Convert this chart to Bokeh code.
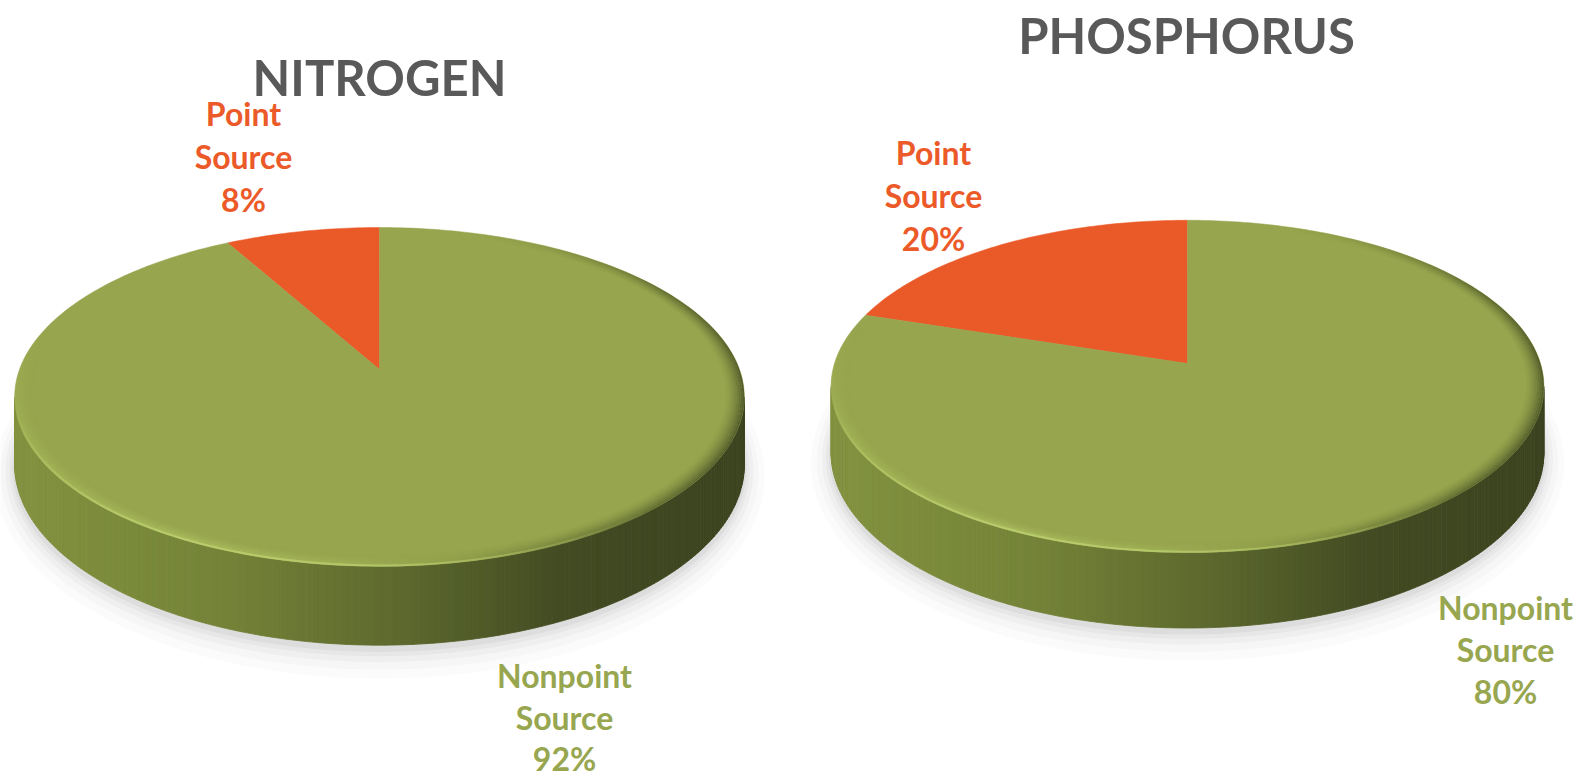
import numpy as np
from bokeh.plotting import figure
from bokeh.models import Range1d
from bokeh.core.properties import value
from bokeh.embed import file_html
from bokeh.resources import INLINE

# ---------------- data ----------------
categories = ["Point Source", "Nonpoint Source"]
nitrogen_pct = [8, 92]
phosphorus_pct = [20, 80]
chart_titles = ["NITROGEN", "PHOSPHORUS"]

# ---------------- styles / layout ----------------
SLICE_COLORS = ["#ea5a28", "#97a54e"]
LABEL_COLORS = ["#eb5a28", "#97a64f"]
TITLE_COLOR = "#595959"
FONT = "Lato"

W, H = 1594, 779
p = figure(width=W, height=H, output_backend="svg", toolbar_location=None,
           x_range=Range1d(0, W), y_range=Range1d(H, 0),
           min_border=0)
p.axis.visible = False
p.grid.visible = False
p.outline_line_color = None
p.background_fill_color = "white"
p.border_fill_color = "white"

# pie geometry (screen px): centre, semi axes, perspective k, depth
pies = [
    dict(values=nitrogen_pct, title=chart_titles[0], cx=379, cy=369, A=360, B=165, k=0.162, D=66,
         title_pos=(379, 76),
         label_pos=[(243, 113), (564, 675)], spacing=[43, 41.5]),
    dict(values=phosphorus_pct, title=chart_titles[1], cx=1187, cy=363, A=353, B=163, k=0.138, D=65,
         title_pos=(1186, 34),
         label_pos=[(933, 152), (1505, 607)], spacing=[43, 42]),
]


def proj(g, phi, r=1.0, drop=0.0):
    phi = np.asarray(phi, dtype=float)
    den = 1.0 + g["k"] * r * np.cos(phi)
    x = g["cx"] - g["A"] * r * np.sin(phi) / den
    y = g["cy"] - g["B"] * r * np.cos(phi) / den + drop / den
    return x, y


def hex2rgb(h):
    h = h.lstrip("#")
    return np.array([int(h[i:i + 2], 16) for i in (0, 2, 4)], dtype=float)


def grad(stops, t):
    ts = [s[0] for s in stops]
    cs = [hex2rgb(s[1]) for s in stops]
    t = min(max(t, 0.0), 1.0)
    for i in range(len(ts) - 1):
        if ts[i] <= t <= ts[i + 1]:
            f = (t - ts[i]) / (ts[i + 1] - ts[i])
            c = cs[i] * (1 - f) + cs[i + 1] * f
            return "#%02x%02x%02x" % tuple(int(round(v)) for v in c)
    c = cs[-1]
    return "#%02x%02x%02x" % tuple(int(round(v)) for v in c)


SIDE_STOPS = [(0.0, "#82923f"), (0.3, "#738237"), (0.55, "#5a662c"),
              (0.75, "#424b22"), (1.0, "#3b431f")]
BEVEL_STOPS = [(0.0, "#a4b658"), (0.25, "#b4c766"), (0.45, "#a6b75a"),
               (0.6, "#8e9c49"), (0.78, "#5c682f"), (1.0, "#3e4621")]

for g in pies:
    k = g["k"]
    D = g["D"]
    # ---- soft shadow ----
    ph = np.linspace(0, 2 * np.pi, 200)
    for e, a in [(20, 0.03), (14, 0.045), (9, 0.06), (5, 0.08), (2, 0.1)]:
        sx, sy = proj(g, ph, r=1.0, drop=D + 3)
        mx = g["cx"]
        my = np.mean(sy)
        ex = mx + (sx - mx) * (1 + e / g["A"])
        ey = my + (sy - my) * (1 + e / g["B"]) + e * 0.3
        p.patch(ex, ey, fill_color="#8a8a8a", fill_alpha=a, line_color=None)

    # ---- side wall (visible front half) ----
    phL = np.arccos(-k)
    phR = 2 * np.pi - phL
    n = 180
    phs = np.linspace(phL, phR, n + 1)
    xs_t, ys_t = proj(g, phs)
    xs_b, ys_b = proj(g, phs, drop=D)
    xmin, xmax = xs_t.min(), xs_t.max()
    pxs, pys, cols = [], [], []
    for i in range(n):
        pxs.append([xs_t[i], xs_t[i + 1], xs_b[i + 1], xs_b[i]])
        pys.append([ys_t[i], ys_t[i + 1], ys_b[i + 1], ys_b[i]])
        t = ((xs_t[i] + xs_t[i + 1]) / 2 - xmin) / (xmax - xmin)
        cols.append(grad(SIDE_STOPS, t))
    p.patches(pxs, pys, fill_color=cols, line_color=cols, line_width=0.8)

    # ---- top slices from the data ----
    vals = np.array(g["values"], dtype=float)
    fr = vals / vals.sum()
    starts = np.concatenate([[0], np.cumsum(fr)[:-1]]) * 2 * np.pi
    ends = np.cumsum(fr) * 2 * np.pi
    for s, e_, col in zip(starts, ends, SLICE_COLORS):
        phw = np.linspace(s, e_, max(int((e_ - s) * 60), 8))
        wx, wy = proj(g, phw)
        p.patch(np.concatenate([[g["cx"]], wx]), np.concatenate([[g["cy"]], wy]),
                fill_color=col, line_color=col, line_width=0.5)

    # ---- soft bevel on the top edge ----
    phb0, phb1 = 1.3, 2 * np.pi - 0.35
    nb = 150
    phb = np.linspace(phb0, phb1, nb + 1)
    nbands = 10
    radii = np.linspace(1.0, 0.95, nbands + 1)
    for j in range(nbands):
        r0, r1 = radii[j], radii[j + 1]
        a = 0.75 * (1 - j / nbands) ** 1.6
        ox, oy = proj(g, phb, r=r0)
        ix, iy = proj(g, phb, r=r1)
        bxs, bys, bcols, balph = [], [], [], []
        for i in range(nb):
            bxs.append([ox[i], ox[i + 1], ix[i + 1], ix[i]])
            bys.append([oy[i], oy[i + 1], iy[i + 1], iy[i]])
            t = ((ox[i] + ox[i + 1]) / 2 - xmin) / (xmax - xmin)
            m = (phb[i] - phb0) / (phb1 - phb0)
            fade = min(1.0, m / 0.15, (1 - m) / 0.15)
            bcols.append(grad(BEVEL_STOPS, t))
            balph.append(a * max(fade, 0.0))
        p.patches(bxs, bys, fill_color=bcols, fill_alpha=balph, line_color=None)
    # thin highlight right on the front-left rim
    phh = np.linspace(1.75, 3.9, 80)
    hx, hy = proj(g, phh, r=0.996)
    hs_x = [[hx[i], hx[i + 1]] for i in range(len(phh) - 1)]
    hs_y = [[hy[i], hy[i + 1]] for i in range(len(phh) - 1)]
    halpha = [0.7 * np.sin(np.pi * i / (len(phh) - 2)) for i in range(len(phh) - 1)]
    p.multi_line(hs_x, hs_y, line_color="#c0d474", line_alpha=halpha, line_width=2)

    # ---- title ----
    p.text(x=[g["title_pos"][0]], y=[g["title_pos"][1]], text=[g["title"]],
           text_font=value(FONT), text_font_style="bold", text_font_size="49px",
           text_color=TITLE_COLOR, text_align="center", text_baseline="middle")

    # ---- labels ----
    for cat, v, (lx, ly), lc, sp in zip(categories, g["values"], g["label_pos"], LABEL_COLORS, g["spacing"]):
        lines = cat.split(" ") + ["%d%%" % v]
        p.text(x=[lx] * len(lines), y=[ly + sp * j for j in range(len(lines))], text=lines,
               text_font=value(FONT), text_font_style="bold", text_font_size="32px",
               text_color=lc, text_align="center", text_baseline="middle")

open("out.html", "w").write(file_html(p, INLINE))
